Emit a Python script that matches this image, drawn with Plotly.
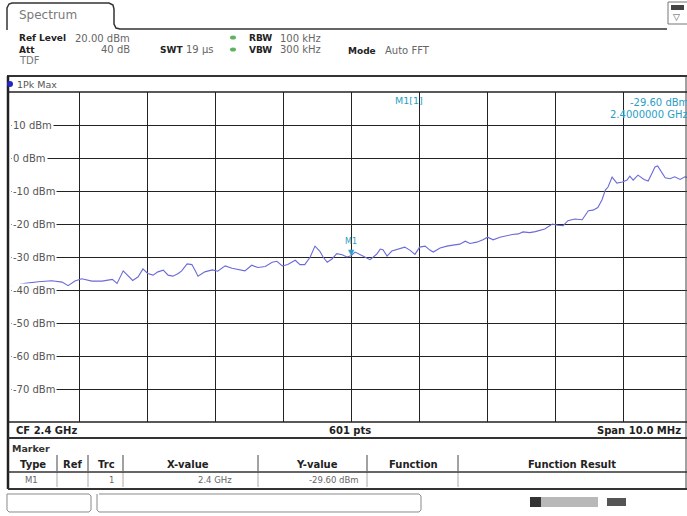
import plotly.graph_objects as go

W, H = 687, 516

# ---- trace data ----
freq_mhz = [2395.01, 2395.21, 2395.40, 2395.60, 2395.75, 2395.84, 2395.94, 2396.04, 2396.19, 2396.34,
            2396.49, 2396.56, 2396.65, 2396.72, 2396.79, 2396.87, 2396.94, 2397.01, 2397.09, 2397.16,
            2397.24, 2397.31, 2397.38, 2397.46, 2397.51, 2397.59, 2397.66, 2397.71, 2397.75, 2397.85,
            2397.96, 2398.04, 2398.15, 2398.25, 2398.34, 2398.44, 2398.54, 2398.63, 2398.74, 2398.84,
            2398.91, 2398.99, 2399.07, 2399.18, 2399.25, 2399.32, 2399.40, 2399.47, 2399.54, 2399.59,
            2399.65, 2399.72, 2399.79, 2399.87, 2399.94, 2400.00, 2400.06, 2400.16, 2400.28, 2400.38,
            2400.43, 2400.47, 2400.53, 2400.60, 2400.69, 2400.79, 2400.87, 2400.94, 2401.01, 2401.09,
            2401.16, 2401.21, 2401.31, 2401.41, 2401.50, 2401.60, 2401.68, 2401.75, 2401.85, 2401.94,
            2402.01, 2402.09, 2402.19, 2402.26, 2402.37, 2402.46, 2402.53, 2402.63, 2402.71, 2402.85,
            2402.96, 2403.04, 2403.12, 2403.19, 2403.29, 2403.40, 2403.44, 2403.49, 2403.56, 2403.63,
            2403.69, 2403.74, 2403.78, 2403.84, 2403.91, 2403.99, 2404.06, 2404.10, 2404.15, 2404.22,
            2404.31, 2404.37, 2404.43, 2404.47, 2404.51, 2404.57, 2404.62, 2404.69, 2404.76, 2404.84,
            2404.91, 2405.00]
level_dbm = [-38.8, -38.0, -37.5, -37.2, -37.6, -38.7, -37.3, -36.6, -37.3, -37.3,
             -36.8, -38.0, -34.2, -35.7, -37.1, -36.0, -33.6, -35.0, -35.5, -34.5,
             -34.0, -35.5, -35.8, -35.0, -34.2, -32.1, -32.3, -34.2, -35.8, -34.5,
             -33.9, -34.3, -32.7, -33.4, -33.8, -34.2, -32.5, -33.2, -32.9, -31.6,
             -31.3, -32.7, -32.3, -31.0, -32.3, -32.3, -30.0, -26.7, -28.2, -30.0,
             -31.6, -30.6, -29.0, -29.3, -30.0, -29.6, -28.5, -29.6, -30.8, -29.1,
             -27.6, -27.8, -29.7, -28.2, -27.6, -27.0, -28.0, -29.2, -27.0, -26.7,
             -27.9, -28.5, -27.3, -26.7, -26.4, -26.1, -25.2, -25.9, -25.5, -24.8,
             -24.0, -24.8, -24.0, -23.6, -23.2, -23.0, -22.4, -22.6, -22.3, -21.5,
             -20.0, -20.4, -20.5, -19.0, -18.5, -18.7, -17.5, -16.0, -15.8, -15.0,
             -12.7, -9.7, -8.8, -5.8, -7.6, -7.3, -6.7, -5.5, -6.7, -5.2,
             -6.5, -7.0, -4.5, -2.7, -2.4, -4.5, -6.0, -6.3, -5.7, -6.5,
             -5.7, -6.2]

marker_freq = [2400.0]
marker_level = [-29.6]

y_tickvals = [10, 0, -10, -20, -30, -40, -50, -60, -70]
y_ticktext = ["10 dBm", "0 dBm", "-10 dBm", "-20 dBm", "-30 dBm", "-40 dBm", "-50 dBm", "-60 dBm", "-70 dBm"]

FONT = "DejaVu Sans"
TEAL = "#2a9ec4"
TRACE = "#6a6ad8"
DARK = "#222222"


def X(px):
    return px / W


def Y(py):
    return 1 - py / H


# plot area in pixels
PL, PR, PT, PB = 11, 687, 92, 422
x_start = 2395.0
x_end = x_start + (PR - PL) / 68.0

fig = go.Figure()
fig.add_trace(go.Scatter(x=freq_mhz, y=level_dbm, mode="lines",
                         line=dict(color=TRACE, width=1.1), hoverinfo="skip", showlegend=False))

shapes = []
ann = []


def line(x0, y0, x1, y1, color=DARK, width=1, layer="above"):
    shapes.append(dict(type="line", xref="paper", yref="paper", x0=X(x0), y0=Y(y0), x1=X(x1), y1=Y(y1),
                       line=dict(color=color, width=width), layer=layer))


def rect(x0, y0, x1, y1, fill=None, color=None, width=1, layer="above"):
    d = dict(type="rect", xref="paper", yref="paper", x0=X(x0), y0=Y(y0), x1=X(x1), y1=Y(y1), layer=layer)
    d["fillcolor"] = fill if fill else "rgba(0,0,0,0)"
    d["line"] = dict(color=color if color else "rgba(0,0,0,0)", width=width if color else 0)
    shapes.append(d)


def text(x, y, s, size=9, color=DARK, anchor="left", bold=False, bg=None):
    d = dict(xref="paper", yref="paper", x=X(x), y=Y(y), text=("<b>%s</b>" % s) if bold else s,
             showarrow=False, xanchor=anchor, yanchor="middle",
             font=dict(family=FONT, size=size, color=color))
    if bg:
        d["bgcolor"] = bg
        d["borderpad"] = 1
    ann.append(d)


def path(pts):
    return "M " + " L ".join("%f,%f" % (X(a), Y(b)) for a, b in pts)


# ---- tab ----
shapes.append(dict(type="path", xref="paper", yref="paper",
                   path=path([(7, 30), (7, 8), (9, 4), (12, 3), (109, 3), (113, 5), (114, 9),
                              (114, 24), (116, 28), (120, 29), (667, 29)]),
                   line=dict(color="#333333", width=1.5)))
text(17, 15, "Spectrum", size=12, color="#7a7a7a")
# icon top right
shapes.append(dict(type="rect", xref="paper", yref="paper", x0=X(668), y0=Y(2), x1=X(689), y1=Y(24),
                   line=dict(color="#777777", width=1), fillcolor="rgba(0,0,0,0)"))
rect(671, 5, 684, 10, fill="#444444")
text(676, 17, "▽", size=9, color="#555555", anchor="center")

# ---- info ----
NS = 10
text(17, 38, "Ref Level", bold=True)
text(73, 38, "20.00 dBm", size=NS, color="#666666")
text(17, 50, "Att", bold=True)
text(132, 50, "40 dB", size=NS, color="#666666", anchor="right")
text(158, 50, "SWT", bold=True)
text(184, 50, "19 µs", size=NS, color="#666666")
shapes.append(dict(type="circle", xref="paper", yref="paper", x0=X(230), y0=Y(35.5), x1=X(236), y1=Y(39.5),
                   fillcolor="#5fb35f", line=dict(width=0)))
shapes.append(dict(type="circle", xref="paper", yref="paper", x0=X(230), y0=Y(47.5), x1=X(236), y1=Y(51.5),
                   fillcolor="#5fb35f", line=dict(width=0)))
text(247, 38, "RBW", bold=True)
text(278, 38, "100 kHz", size=NS, color="#666666")
text(247, 50, "VBW", bold=True)
text(278, 50, "300 kHz", size=NS, color="#666666")
text(346, 51, "Mode", bold=True)
text(383, 51, "Auto FFT", size=NS, color="#666666")
text(17, 61, "TDF", size=NS, color="#777777")

# ---- frame ----
line(7, 76, 687, 76, color="#333333", width=2)
line(8, 76, 8, 489, color=DARK, width=2.5)
line(686, 76, 686, 489, color="#444444", width=1)
line(8, PT, 687, PT, width=1.3)
line(8, PB, 687, PB, width=1.3)
line(8, 438, 687, 438, color="#333333", width=2)
line(8, 489, 687, 489, color="#333333", width=2)

shapes.append(dict(type="circle", xref="paper", yref="paper", x0=X(7), y0=Y(81), x1=X(13), y1=Y(87),
                   fillcolor="#2626c8", line=dict(width=0)))
text(15, 84, "1Pk Max", size=9.5, color="#555555")

# y labels (white background hides the grid line behind the text)
for v, t in zip(y_tickvals, y_ticktext):
    py = PT + (20 - v) * (PB - PT) / 100.0
    text(11, py, t, size=10, color="#555555", bg="white")

# marker readout
text(393, 100, "M1[1]", size=9.5, color=TEAL)
text(690, 102, "-29.60 dBm", size=10, color=TEAL, anchor="right")
text(690, 115, "2.4000000 GHz", size=10, color=TEAL, anchor="right")

# marker on trace
ann.append(dict(x=marker_freq[0], y=marker_level[0], xref="x", yref="y", text="▼", showarrow=False,
                yanchor="bottom", yshift=-3, font=dict(family=FONT, size=8, color=TEAL)))
ann.append(dict(x=marker_freq[0], y=marker_level[0], xref="x", yref="y", text="M1", showarrow=False,
                yanchor="bottom", yshift=8, font=dict(family=FONT, size=8, color=TEAL)))

# ---- footer ----
text(14, 430, "CF 2.4 GHz", size=10, bold=True)
text(350, 430, "601 pts", size=10, bold=True, anchor="center")
text(683, 430, "Span 10.0 MHz", size=10, bold=True, anchor="right")
text(10, 448, "Marker", size=9.5, color="#333333", bold=True)

for xs in [57, 88, 123, 258, 367, 458]:
    line(xs, 455, xs, 471, color="#444444", width=1)
    line(xs, 472, xs, 487, color="#aaaaaa", width=1)
line(8, 472, 687, 472, color="#333333", width=1.3)

text(33, 464, "Type", size=10, bold=True, anchor="center")
text(72, 464, "Ref", size=10, bold=True, anchor="center")
text(106, 464, "Trc", size=10, bold=True, anchor="center")
text(188, 464, "X-value", size=10, bold=True, anchor="center")
text(317, 464, "Y-value", size=10, bold=True, anchor="center")
text(413, 464, "Function", size=10, bold=True, anchor="center")
text(572, 464, "Function Result", size=10, bold=True, anchor="center")

text(31, 480, "M1", size=8.5, color="#666666", anchor="center")
text(116, 480, "1", size=8.5, color="#666666", anchor="right")
text(234, 480, "2.4 GHz", size=8.5, color="#666666", anchor="right")
text(361, 480, "-29.60 dBm", size=8.5, color="#666666", anchor="right")

# status bar
shapes.append(dict(type="path", xref="paper", yref="paper",
                   path=path([(7, 494), (89, 494), (91, 496), (91, 510), (89, 512), (9, 512), (7, 510), (7, 494)]),
                   line=dict(color="#8a8a8a", width=1)))
shapes.append(dict(type="path", xref="paper", yref="paper",
                   path=path([(99, 494), (419, 494), (421, 496), (421, 510), (419, 512), (99, 512), (97, 510), (97, 494)]),
                   line=dict(color="#8a8a8a", width=1)))
rect(530, 497, 598, 507, fill="#b8b8b8")
rect(530, 497, 541, 507, fill="#333333")
rect(607, 498, 626, 506, fill="#555555")

fig.update_layout(
    width=W, height=H,
    margin=dict(l=0, r=0, t=0, b=0, autoexpand=False),
    paper_bgcolor="white", plot_bgcolor="white",
    showlegend=False,
    xaxis=dict(domain=[X(PL), X(PR)], range=[x_start, x_end], tick0=2395, dtick=1,
               showgrid=True, gridcolor="#222222", gridwidth=1, showticklabels=False,
               zeroline=False, showline=False, ticks=""),
    yaxis=dict(domain=[Y(PB), Y(PT)], range=[-80, 20], tickvals=y_tickvals,
               showticklabels=False, showgrid=True, gridcolor="#222222", gridwidth=1,
               zeroline=False, showline=False, ticks=""),
    shapes=shapes, annotations=ann,
)

fig.write_html("out.html", config={"displayModeBar": False},
               post_script="document.body.style.margin='0';document.body.style.padding='0';"
                           "document.documentElement.style.overflow='hidden';")
